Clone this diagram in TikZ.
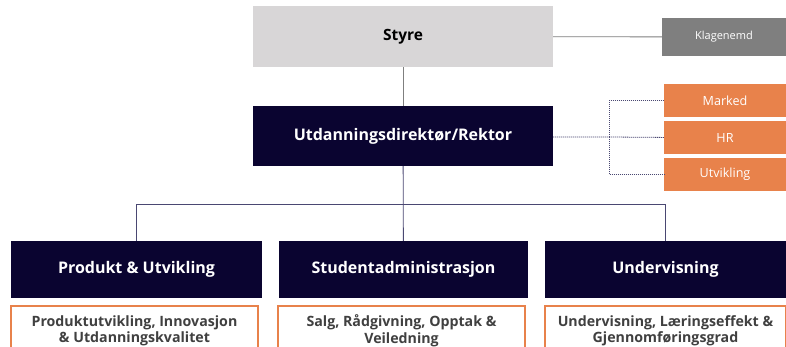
\documentclass[tikz,border=0pt]{standalone}
\usepackage{fontspec}
\setmainfont{Open Sans}
\usetikzlibrary{positioning}
\definecolor{navy}{HTML}{0A0430}
\definecolor{lightgrey}{HTML}{D8D6D7}
\definecolor{midgrey}{HTML}{7F7F7F}
\definecolor{orangebox}{HTML}{E8824B}
\definecolor{textgrey}{HTML}{404040}
\definecolor{linkline}{HTML}{4A4872}

\tikzset{
  headbox/.style={fill=navy,text=white,inner sep=0pt,align=center,
    font=\fontsize{16}{19}\selectfont\bfseries},
  sidebox/.style={fill=orangebox,text=white,inner sep=0pt,
    minimum width=122pt,minimum height=33pt,font=\fontsize{12.6}{14}\selectfont},
  taskbox/.style={draw=orangebox,line width=1.5pt,fill=white,text=textgrey,inner sep=0pt,
    align=center,minimum height=50pt,font=\fontsize{14.2}{16.5}\selectfont\bfseries},
  greyline/.style={draw=midgrey,line width=0.8pt},
  orgline/.style={draw=linkline,line width=0.8pt},
  dotline/.style={draw=linkline,line width=0.8pt,dash pattern=on 1.2pt off 0.8pt}
}

\begin{document}
\begin{tikzpicture}[x=1pt,y=-1pt]
  %%%%% START %%%%%
  \clip (0,0) rectangle (786,347);
  \fill[white] (0,0) rectangle (786,347);

  % top levels
  \node[fill=lightgrey,inner sep=0pt,minimum width=300pt,minimum height=61pt,
    font=\fontsize{15.5}{17}\selectfont\bfseries] (styre) at (403,36.5) {Styre};
  \node[fill=midgrey,text=white,inner sep=0pt,minimum width=124pt,minimum height=38pt,
    font=\fontsize{11}{12}\selectfont] (klage) at (724,37) {Klagenemd};
  \node[headbox,minimum width=300pt,minimum height=60pt] (rektor) at (403,136) {Utdanningsdirektør/Rektor};

  % staff
  \node[sidebox] (marked) at (725,100.5) {Marked};
  \node[sidebox,below=4pt of marked] (hr) {HR};
  \node[sidebox,below=3pt of hr] (utvikling) {Utvikling};

  % departments
  \node[headbox,minimum width=251pt,minimum height=57pt] (produkt) at (136.5,269.5) {Produkt \& Utvikling};
  \node[headbox,minimum width=249pt,minimum height=57pt] (studadm) at (403.5,269.5) {Studentadministrasjon};
  \node[headbox,minimum width=241pt,minimum height=57pt] (underv) at (665.5,269.5) {Undervisning};

  \node[taskbox,minimum width=247pt] (oppgprod) at (134.5,331) {Produktutvikling, Innovasjon\\ \& Utdanningskvalitet};
  \node[taskbox,minimum width=247pt] (oppgstud) at (401.5,331) {Salg, Rådgivning, Opptak \&\\ Veiledning};
  \node[taskbox,minimum width=241pt] (oppgunder) at (665.5,331) {Undervisning, Læringseffekt \&\\ Gjennomføringsgrad};

  % lines
  \draw[greyline] (styre) -- (klage);
  \draw[greyline] (styre) -- (rektor);

  \coordinate (split) at (403,204);
  \draw[orgline] (rektor) -- (studadm);
  \draw[orgline] (split) -| (produkt);
  \draw[orgline] (split) -| (underv);

  \coordinate (fork) at (609,137);
  \draw[dotline] (rektor.east |- fork) -- (fork) -- (hr);
  \draw[dotline] (fork) |- (marked);
  \draw[dotline] (fork) |- (utvikling);
  %%%%% END %%%%%
\end{tikzpicture}
\end{document}
